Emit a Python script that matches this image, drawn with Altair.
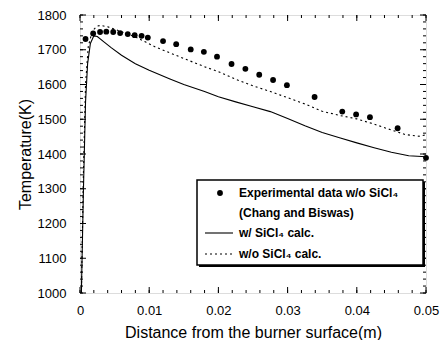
import altair as alt
import pandas as pd

# ---------------- data ----------------
exp_x = [0.0008, 0.0019, 0.0029, 0.0038, 0.0048, 0.0058, 0.0069, 0.0079, 0.0089, 0.0098,
         0.0120, 0.0139, 0.0160, 0.0179, 0.0198, 0.0219, 0.0239, 0.0259, 0.0279, 0.0299,
         0.0339, 0.0379, 0.0399, 0.0419, 0.0459, 0.0500]
exp_T = [1731, 1747, 1751, 1752, 1751, 1748, 1745, 1742, 1740, 1735,
         1725, 1716, 1701, 1694, 1680, 1659, 1645, 1628, 1613, 1598,
         1564, 1522, 1514, 1506, 1474, 1389]

w_x = [0.0002, 0.0005, 0.0008, 0.0011, 0.0015, 0.0020, 0.0025, 0.0035, 0.0045, 0.0060,
       0.0080, 0.0100, 0.0130, 0.0150, 0.0180, 0.0200, 0.0225, 0.0250, 0.0275, 0.0300,
       0.0325, 0.0350, 0.0375, 0.0400, 0.0425, 0.0450, 0.0475, 0.0500]
w_T = [1000, 1300, 1550, 1660, 1718, 1740, 1738, 1722, 1706, 1684,
       1660, 1641, 1616, 1600, 1580, 1565, 1550, 1536, 1522, 1502,
       1481, 1462, 1447, 1432, 1418, 1405, 1395, 1392]

wo_x = [0.0002, 0.0005, 0.0008, 0.0012, 0.0018, 0.0025, 0.0030, 0.0040, 0.0050, 0.0065,
        0.0080, 0.0095, 0.0110, 0.0130, 0.0150, 0.0180, 0.0200, 0.0225, 0.0250, 0.0275,
        0.0300, 0.0325, 0.0350, 0.0375, 0.0400, 0.0425, 0.0450, 0.0470, 0.0490, 0.0500]
wo_T = [1000, 1350, 1600, 1710, 1755, 1768, 1770, 1766, 1759, 1748,
        1737, 1722, 1707, 1691, 1675, 1651, 1637, 1615, 1596, 1580,
        1562, 1544, 1523, 1511, 1501, 1486, 1469, 1456, 1451, 1455]

x_major = [0, 0.01, 0.02, 0.03, 0.04, 0.05]
x_minor = [0.002 * i for i in range(26)]
y_major = [1000, 1100, 1200, 1300, 1400, 1500, 1600, 1700, 1800]
y_minor = [1000 + 20 * i for i in range(41)]

legend_labels = ["Experimental data w/o SiCl\u2084", "(Chang and Biswas)",
                 "w/ SiCl\u2084 calc.", "w/o SiCl\u2084 calc."]

# ---------------- layout ----------------
W, H = 346, 278
FONT = "Liberation Sans"

exp_df = pd.DataFrame({"x": exp_x, "T": exp_T})
w_df = pd.DataFrame({"x": w_x, "T": w_T})
wo_df = pd.DataFrame({"x": wo_x, "T": wo_T})

X = alt.X("x:Q",
          scale=alt.Scale(domain=[0, 0.05], nice=False, zero=False),
          axis=alt.Axis(values=x_major, grid=False, ticks=False, domain=False,
                        labelExpr="datum.value == 0 ? '0' : format(datum.value, '.2f')",
                        labelFont=FONT, labelFontSize=13, labelColor="black",
                        labelPadding=11, labelFlush=False,
                        title="Distance from the burner surface(m)",
                        titleFont=FONT, titleFontSize=16, titleFontWeight="normal",
                        titleColor="black", titlePadding=7))
Y = alt.Y("T:Q",
          scale=alt.Scale(domain=[1000, 1800], nice=False, zero=False),
          axis=alt.Axis(values=y_major, grid=False, ticks=False, domain=False, format="d",
                        labelFont=FONT, labelFontSize=13, labelColor="black",
                        labelPadding=14, labelFlush=False,
                        title="Temperature(K)",
                        titleFont=FONT, titleFontSize=16, titleFontWeight="normal",
                        titleColor="black", titlePadding=4))

line_w = alt.Chart(w_df).mark_line(color="black", strokeWidth=1.1).encode(x=X, y=Y, order="x:Q")
line_wo = alt.Chart(wo_df).mark_line(color="black", strokeWidth=1.1, strokeDash=[2, 3]).encode(
    x=X, y=Y, order="x:Q")
pts = alt.Chart(exp_df).mark_point(filled=True, color="black", opacity=1, size=34).encode(x=X, y=Y)

xmaj = pd.DataFrame({"x": x_major})
xmin = pd.DataFrame({"x": x_minor})
ymaj = pd.DataFrame({"T": y_major})
ymin = pd.DataFrame({"T": y_minor})

def tick_x(df, length):
    a = alt.Chart(df).mark_rule(color="black", strokeWidth=1).encode(
        x=X, y=alt.value(H), y2=alt.value(H - length))
    b = alt.Chart(df).mark_rule(color="black", strokeWidth=1).encode(
        x=X, y=alt.value(0), y2=alt.value(length))
    return [a, b]

def tick_y(df, length):
    a = alt.Chart(df).mark_rule(color="black", strokeWidth=1).encode(
        y=Y, x=alt.value(0), x2=alt.value(length))
    b = alt.Chart(df).mark_rule(color="black", strokeWidth=1).encode(
        y=Y, x=alt.value(W), x2=alt.value(W - length))
    return [a, b]

ticks = tick_x(xmin, 3) + tick_x(xmaj, 6) + tick_y(ymin, 3) + tick_y(ymaj, 6)

# ---------------- legend ----------------
one = pd.DataFrame({"k": [0]})
LX0, LY0, LX1, LY1 = 117, 165, 343, 250
shadow = alt.Chart(one).mark_rect(color="black").encode(
    x=alt.value(LX0 + 2), x2=alt.value(LX1 + 2), y=alt.value(LY0 + 2), y2=alt.value(LY1 + 2))
box = alt.Chart(one).mark_rect(fill="white", stroke="black", strokeWidth=1.5).encode(
    x=alt.value(LX0), x2=alt.value(LX1), y=alt.value(LY0), y2=alt.value(LY1))

row_y = [178, 198, 218, 239]
leg_layers = [shadow, box]
leg_layers.append(alt.Chart(one).mark_point(filled=True, color="black", opacity=1, size=34).encode(
    x=alt.value(140), y=alt.value(row_y[0])))
leg_layers.append(alt.Chart(one).mark_rule(color="black", strokeWidth=1.1).encode(
    x=alt.value(125), x2=alt.value(153), y=alt.value(row_y[2])))
leg_layers.append(alt.Chart(one).mark_rule(color="black", strokeWidth=1.1, strokeDash=[2, 3]).encode(
    x=alt.value(125), x2=alt.value(153), y=alt.value(row_y[3])))
for lab, yy in zip(legend_labels, row_y):
    leg_layers.append(alt.Chart(one).mark_text(
        text=lab, align="left", baseline="middle", font=FONT, fontSize=12,
        fontWeight="bold", color="black").encode(x=alt.value(159), y=alt.value(yy)))

chart = alt.layer(line_w, line_wo, pts, *ticks, *leg_layers).properties(
    width=W, height=H,
    autosize=alt.AutoSizeParams(type="none"),
    padding={"left": 80, "top": 15, "right": 20, "bottom": 47},
).configure_view(stroke="black", strokeWidth=1.5).configure(background="white")

chart.save("out.html", embed_options={"renderer": "svg", "actions": False})
